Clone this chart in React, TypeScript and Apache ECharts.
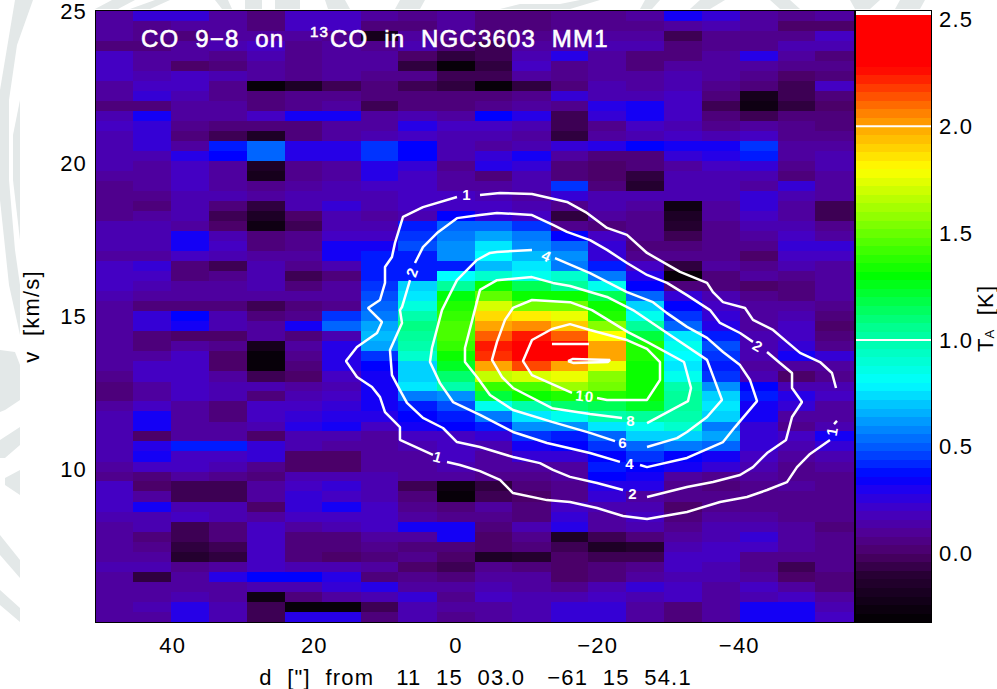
import React, { useEffect, useRef } from "react";
import * as echarts from "echarts";

// Grid of the position-velocity map
const offsets = [48.2,42.8,37.5,32.1,26.8,21.4,16.1,10.7,5.4,0,-5.4,-10.7,-16.1,-21.4,-26.8,-32.1,-37.5,-42.8,-48.2,-53.5];
const velocities = [24.84,24.51,24.18,23.85,23.52,23.20,22.87,22.54,22.21,21.89,21.56,21.23,20.90,20.57,20.25,19.92,19.59,19.26,18.93,18.61,18.28,17.95,17.62,17.30,16.97,16.64,16.31,15.98,15.66,15.33,15.00,14.67,14.34,14.02,13.69,13.36,13.03,12.70,12.38,12.05,11.72,11.39,11.07,10.74,10.41,10.08,9.75,9.43,9.10,8.77,8.44,8.11,7.79,7.46,7.13,6.80,6.48,6.15,5.82,5.49,5.16];

// T_A in hundredths of a kelvin, one list per offset column, top row first
const c00 = [12,12,10,4,18,20,18,12,10,5,16,18,17,17,16,15,12,7,7,8,8,14,15,15,12,19,20,20,14,12,12,13,11,10,10,10,9,3,3,12,14,15,15,15,15,11,8,19,20,18,15,13,12,12,13,14,12,13,12,13,13];
const c01 = [22,8,6,5,12,12,14,20,25,5,30,22,22,22,16,12,11,11,8,3,10,17,17,15,12,22,21,14,10,5,22,24,5,3,12,20,18,13,13,18,33,31,-2,28,30,20,2,-2,10,33,15,14,5,8,12,14,-8,10,13,14,13];
const c02 = [25,12,5,10,10,0,18,20,15,12,10,6,5,12,28,20,18,18,16,15,14,12,30,33,20,4,2,10,13,2,35,30,-2,12,18,20,20,20,18,12,10,10,12,38,20,18,12,-4,-5,15,18,-4,-5,-10,-13,8,10,12,14,28,28];
const c03 = [13,10,12,14,8,2,16,6,8,10,12,3,-3,38,36,12,12,13,14,2,-3,-2,15,20,14,-3,8,10,12,2,17,16,0,8,0,-2,12,14,15,5,5,10,12,38,18,15,8,-5,-5,14,14,5,3,-6,-8,10,28,10,12,15,15];
const c04 = [3,5,12,18,15,12,12,-28,2,3,18,5,-18,50,52,-18,-20,8,12,-8,-15,-26,2,5,10,14,15,14,10,-3,4,12,12,-20,-28,-28,-5,15,5,18,18,15,0,25,22,8,4,12,12,0,10,18,20,18,18,20,36,15,-25,-3,-3];
const c05 = [20,18,10,8,6,8,8,-18,6,8,30,4,2,28,26,6,8,12,14,14,-2,-5,6,8,10,6,-5,5,10,5,8,33,4,10,6,2,0,12,14,20,25,26,16,14,0,-2,14,18,22,24,18,12,4,2,2,14,36,15,2,-28,28];
const c06 = [20,18,8,12,12,12,10,-5,8,10,33,10,10,26,26,10,12,14,15,22,14,14,20,30,30,14,2,10,12,8,42,50,14,28,26,26,20,16,20,24,28,30,14,13,-2,-2,14,25,18,33,18,14,5,2,0,14,28,22,10,-28,28];
const c07 = [12,4,-22,8,10,10,8,4,4,-5,10,12,14,42,44,28,26,18,16,14,12,14,18,30,38,38,40,45,48,52,58,62,68,62,42,36,32,32,32,30,28,20,13,13,13,12,14,16,16,20,20,18,10,6,2,10,5,28,16,-4,4];
const c08 = [6,4,13,14,0,-10,8,-3,5,3,14,28,18,36,34,22,20,18,18,18,15,38,44,46,40,38,38,72,76,86,100,106,104,100,90,70,72,76,55,38,35,33,18,15,12,13,12,-5,2,6,10,32,10,5,6,-2,8,12,22,16,15];
const c09 = [10,10,8,5,-10,-30,-5,-8,5,5,12,20,14,14,14,6,10,12,18,18,36,50,56,60,60,40,78,104,128,136,140,142,142,138,130,122,110,100,60,46,38,34,20,20,18,14,12,-25,-28,4,6,30,32,4,-2,-6,4,10,6,10,8];
const c10 = [3,4,2,-4,-4,-8,-6,-28,4,6,34,18,14,12,22,26,5,10,16,18,22,50,65,76,80,68,90,130,146,172,186,200,210,224,220,198,166,140,120,85,55,40,25,15,12,10,8,-8,-6,10,8,4,0,0,-16,8,10,14,20,13,12];
const c11 = [3,5,6,10,14,18,10,-10,8,10,28,14,12,16,30,22,14,14,12,14,20,42,55,60,68,75,85,115,130,150,185,205,225,252,252,215,170,145,130,100,75,60,45,30,25,12,8,2,-2,4,2,14,8,4,-12,4,10,12,15,15,14];
const c12 = [6,6,12,10,28,8,6,2,25,8,-5,-6,-8,22,12,4,4,42,22,8,-8,8,35,50,60,55,90,105,130,150,175,190,210,255,255,200,175,160,135,110,85,60,40,35,25,10,10,8,8,18,22,28,-15,-6,0,0,0,8,14,22,22];
const c13 = [8,6,10,14,12,12,10,16,15,26,22,8,10,28,2,-2,-2,4,15,14,12,5,18,22,25,38,55,85,115,130,135,155,180,200,200,175,155,150,135,115,100,75,50,45,35,38,35,28,22,14,10,12,-5,-14,-4,2,5,16,20,22,22];
const c14 = [12,8,10,14,5,4,12,10,16,30,32,18,16,34,2,4,-8,-12,14,12,8,6,6,4,8,18,26,35,50,72,85,105,120,135,135,130,130,130,130,125,105,85,70,50,45,35,30,28,12,14,20,14,4,-12,-5,6,12,25,14,10,10];
const c15 = [30,12,-3,2,4,10,14,16,18,20,20,16,18,30,22,12,14,14,14,-25,-18,-12,-3,4,8,-8,-28,5,22,35,42,50,75,85,80,75,85,100,102,105,100,90,70,55,35,30,10,8,6,0,3,6,12,16,20,18,16,20,18,4,2];
const c16 = [22,14,6,8,12,10,10,8,2,-6,5,8,14,32,28,20,16,14,14,12,10,8,8,8,6,10,4,2,14,20,22,28,38,48,45,40,45,60,72,75,70,55,65,50,30,25,8,4,6,8,10,14,14,20,18,15,14,12,12,10,12];
const c17 = [10,10,8,8,26,10,8,4,-22,-26,-4,12,18,45,38,22,14,12,22,25,20,14,12,8,-2,8,12,0,8,10,10,13,14,14,14,12,16,36,38,32,30,24,22,22,20,16,10,6,6,8,10,14,24,18,6,8,10,18,16,30,30];
const c18 = [8,-2,6,14,10,8,-2,-4,-6,-8,2,6,8,12,12,8,4,24,14,10,10,14,20,24,20,14,6,4,4,10,16,18,20,22,30,12,-2,16,28,24,12,6,20,14,10,8,6,10,6,8,8,10,10,10,8,-3,-2,10,20,30,30];
const c19 = [12,0,18,14,2,6,4,18,2,0,4,4,8,12,14,14,12,10,10,-6,-5,6,10,24,20,12,10,10,10,8,4,0,4,6,22,12,8,14,18,12,10,14,30,24,14,10,8,8,6,8,6,5,6,8,8,6,3,4,10,14,20];
const columns = [c00,c01,c02,c03,c04,c05,c06,c07,c08,c09,c10,c11,c12,c13,c14,c15,c16,c17,c18,c19];

// Colour table of the colour bar: [kelvin, r, g, b]
const colourStops = [[-0.32,0,0,0],[-0.1,40,0,52],[0,75,0,105],[0.1,80,0,150],[0.2,68,0,195],[0.3,30,0,240],[0.36,0,0,255],[0.5,0,90,255],[0.65,0,170,255],[0.8,0,255,255],[1.05,0,255,150],[1.3,0,255,0],[1.55,130,255,0],[1.8,255,255,0],[2.0,255,165,0],[2.28,255,0,0],[2.52,255,0,0]];
const barLevels = [-0.30,-0.26,-0.22,-0.18,-0.14,-0.10,-0.06,-0.02,0.02,0.06,0.10,0.14,0.18,0.22,0.26,0.30,0.34,0.38,0.42,0.46,0.50,0.54,0.58,0.62,0.66,0.70,0.74,0.78,0.82,0.86,0.90,0.94,0.98,1.02,1.06,1.10,1.14,1.18,1.22,1.26,1.30,1.34,1.38,1.42,1.46,1.50,1.54,1.58,1.62,1.66,1.70,1.74,1.78,1.82,1.86,1.90,1.94,1.98,2.02,2.06,2.10,2.14,2.18,2.22,2.26,2.30,2.34,2.38,2.42,2.46,2.50,2.54];
const barContours = [1.0, 2.0];

// Contours of the 13CO map: [offset, velocity]; each list is one unbroken stretch
const contour1a = [[-3.39,18.98],[-6.21,19.04],[-10.73,19.01],[-15.67,18.75],[-18.49,18.39],[-21.32,17.90],[-24.14,17.67],[-26.97,17.08],[-31.63,16.46],[-35.44,16.10],[-36.28,15.80],[-37.70,15.47],[-40.80,15.28],[-41.93,14.89],[-44.76,14.56],[-46.73,14.17],[-48.57,13.81],[-51.39,13.51],[-53.08,13.15],[-53.65,12.66]];
const contour1b = [[-0.14,18.91],[4.66,18.58],[7.48,18.26],[8.61,17.41],[9.04,16.95],[10.02,16.62],[10.02,16.10],[10.73,15.54],[12.42,15.28],[12.14,15.21],[10.45,14.82],[11.15,14.46],[13.98,14.00],[15.53,13.54],[13.98,13.02],[11.86,12.69],[10.73,12.36],[10.02,11.87],[7.91,11.38],[7.91,10.96],[3.25,10.47]];
const contour1c = [[1.27,10.24],[-0.56,10.14],[-3.39,9.94],[-6.21,9.65],[-8.05,9.22],[-12.85,8.99],[-16.10,8.93],[-19.91,8.73],[-23.58,8.47],[-26.97,8.37],[-32.61,8.60],[-37.27,8.93],[-41.08,9.09],[-43.91,9.32],[-46.73,9.58],[-48.14,10.07],[-49.98,10.50],[-52.80,10.96]];
const contour1d = [[-53.37,11.48],[-53.79,11.58]];
const contour2a = [[5.79,16.75],[4.66,17.27],[2.68,17.73],[-0.14,18.22],[-3.39,18.32],[-5.79,18.39],[-10.73,18.32],[-13.69,18.00],[-15.67,17.77],[-18.92,17.50],[-21.32,17.18],[-24.14,16.75],[-26.97,16.36],[-29.79,16.10],[-32.61,15.70],[-35.86,15.21],[-37.27,14.79],[-40.10,14.46],[-41.93,14.17]];
const contour2b = [[-43.91,13.84],[-45.74,13.48],[-47.44,13.15],[-47.44,12.66],[-48.85,12.20],[-47.44,11.71],[-46.59,10.96],[-43.91,10.53],[-41.93,10.07],[-40.10,9.81],[-36.28,9.58],[-32.61,9.42],[-26.97,9.09]];
const contour2c = [[-23.58,9.32],[-19.91,9.55],[-16.10,9.75],[-13.69,9.98],[-11.86,10.20],[-8.05,10.40],[-3.39,10.73],[-0.14,10.89],[1.84,11.35],[4.66,11.68],[6.92,12.17],[7.91,12.59],[9.04,13.08],[9.32,13.90],[7.62,14.79],[7.91,15.21],[7.62,15.31],[6.49,16.19]];
const contour4a = [[-10.73,17.18],[-5.79,17.11],[-4.80,17.08],[-2.96,16.85],[-0.14,16.19],[1.27,15.54],[1.98,15.21],[3.39,13.97],[3.67,13.51],[2.26,12.82],[0.42,12.20],[-3.39,11.78],[-8.05,11.22],[-12.85,10.86],[-18.92,10.53],[-23.15,10.24]];
const contour4b = [[-25.98,10.14],[-26.97,10.07],[-32.61,10.37],[-37.70,10.89],[-39.39,11.38],[-42.50,12.23],[-41.51,12.92],[-40.10,13.41],[-37.70,13.84],[-35.44,14.30],[-32.61,14.66],[-29.79,15.11],[-27.81,15.47],[-24.14,15.80],[-18.92,16.42],[-13.98,16.91]];
const contour6 = [[-26.97,10.73],[-31.20,11.02],[-32.61,11.22],[-35.44,11.71],[-37.55,12.27],[-35.44,13.58],[-29.79,14.46],[-24.99,15.21],[-21.32,15.64],[-16.10,16.00],[-13.69,16.10],[-10.73,16.29],[-5.79,16.19],[-3.39,15.87],[-2.40,14.98],[-1.27,13.97],[-1.27,13.51],[-2.96,13.02],[-4.80,12.43],[-8.05,11.94],[-13.55,11.55],[-18.92,11.19],[-22.45,10.92]];
const contour8 = [[-26.97,11.51],[-32.75,12.23],[-33.18,12.66],[-32.19,13.51],[-26.97,14.17],[-24.28,14.49],[-19.20,15.21],[-16.10,15.47],[-10.73,15.54],[-8.05,15.28],[-6.92,14.89],[-5.79,14.17],[-5.08,13.58],[-6.49,13.02],[-8.05,12.66],[-13.55,12.00],[-18.92,11.81],[-23.44,11.68]];
const contour10 = [[-19.91,12.33],[-21.32,12.27],[-26.97,12.27],[-28.80,12.92],[-28.80,13.51],[-26.97,13.94],[-24.14,14.23],[-18.92,14.56],[-16.10,14.75],[-13.55,14.59],[-10.73,14.23],[-9.46,13.54],[-10.73,13.08],[-16.38,12.50]];
const contour12a = [[-13.55,14.10],[-18.78,14.10]];
const contour12b = [[-15.81,13.54],[-16.52,13.61],[-21.74,13.58],[-21.46,13.51],[-16.52,13.48],[-15.81,13.54]];
const contourLists = [contour1a,contour1b,contour1c,contour1d,contour2a,contour2b,contour2c,contour4a,contour4b,contour6,contour8,contour10,contour12a,contour12b];

const contourLabels = [
  { name: "1", value: [-1.55, 18.98], rotate: 0 },
  { name: "2", value: [6.21, 16.46], rotate: 70 },
  { name: "4", value: [-12.85, 16.98], rotate: -25 },
  { name: "2", value: [-42.64, 14.03], rotate: -30 },
  { name: "1", value: [-53.08, 11.25], rotate: 80 },
  { name: "1", value: [2.54, 10.40], rotate: -15 },
  { name: "10", value: [-18.21, 12.40], rotate: -5 },
  { name: "8", value: [-24.71, 11.61], rotate: 0 },
  { name: "6", value: [-23.58, 10.86], rotate: 0 },
  { name: "4", value: [-24.57, 10.20], rotate: 0 },
  { name: "2", value: [-24.99, 9.22], rotate: 0 },
];

const offsetMajor = [40, 20, 0, -20, -40];
const offsetMinor = [50,45,35,30,25,15,10,5,-5,-10,-15,-25,-30,-35,-45,-50,-55];
const barMajor = [0, 0.5, 1.0, 1.5, 2.0, 2.5];
const barMinor = [-0.3,-0.2,-0.1,0.1,0.2,0.3,0.4,0.6,0.7,0.8,0.9,1.1,1.2,1.3,1.4,1.6,1.7,1.8,1.9,2.1,2.2,2.3,2.4];

const titleLeft = "CO  9\u22128  on";
const titleSup = "13";
const titleRight = "CO  in  NGC3603  MM1";
const xName = "d  [\"]  from   11  15  03.0   \u221261  15  54.1";
const yName = "v  [km/s]";

const FONT = "Liberation Sans";
const WM = "#e3e8e8";

// Faint institute crest behind the page (page decoration, not data)
const watermark: number[][][] = [
  [[15,0],[33,0],[17,45],[9,100],[9,180],[15,250],[20,285],[20,335],[9,285],[0,200],[0,90]],
  [[20,100],[13,135],[13,180],[20,240]],
  [[0,350],[15,352],[20,365],[20,400],[5,410],[0,412]],
  [[0,440],[20,427],[20,445],[5,458],[0,458]],
  [[5,478],[20,470],[20,495],[5,485]],
  [[0,535],[20,560],[20,578],[0,555]],
  [[0,590],[20,608],[20,622],[0,605]],
  [[95,9],[112,0],[135,0],[118,9]],
  [[130,9],[155,0],[170,0],[150,9]],
  [[215,0],[228,0],[232,9],[222,9]],
  [[245,0],[262,0],[262,9],[245,9]],
  [[275,0],[300,0],[300,9],[275,9]],
  [[325,0],[345,0],[350,9],[328,9]],
  [[400,0],[425,0],[420,9],[395,9]],
  [[500,9],[520,4],[560,4],[580,0],[600,0],[570,9]],
  [[645,0],[660,0],[652,9],[640,9]],
  [[700,0],[725,0],[710,9],[690,9]],
  [[770,0],[790,0],[800,9],[780,9]],
  [[850,0],[880,0],[870,9],[855,9]],
  [[900,0],[925,0],[920,9],[895,9]],
];

function colourOf(k: number): string {
  if (k > 2.52) return "#ffffff";
  const q = Math.max(-0.32, Math.min(2.52, k));
  for (let i = 1; i < colourStops.length; i++) {
    const a = colourStops[i - 1], b = colourStops[i];
    if (q <= b[0]) {
      const t = (q - a[0]) / (b[0] - a[0]);
      return `rgb(${Math.round(a[1] + t * (b[1] - a[1]))},${Math.round(a[2] + t * (b[2] - a[2]))},${Math.round(a[3] + t * (b[3] - a[3]))})`;
    }
  }
  return "#ff0000";
}

const snap = (k: number) => Math.min(2.5, Math.round(k * 25) / 25);
const halfD = 2.75;
const halfV = 0.172;

function renderCell(_: any, api: any) {
  const d = api.value(0), v = api.value(1), k = api.value(2);
  const a = api.coord([d + halfD, v + halfV]);
  const b = api.coord([d - halfD, v - halfV]);
  const x = Math.round(Math.min(a[0], b[0])), y = Math.round(Math.min(a[1], b[1]));
  const w = Math.round(Math.max(a[0], b[0])) - x, h = Math.round(Math.max(a[1], b[1])) - y;
  return { type: "rect", shape: { x, y, width: w, height: h }, style: { fill: colourOf(snap(k)) } };
}

function renderBar(_: any, api: any) {
  const k = api.value(0);
  const a = api.coord([0, k + 0.021]);
  const b = api.coord([1, k - 0.021]);
  return { type: "rect", shape: { x: a[0], y: Math.round(a[1]), width: b[0] - a[0], height: Math.round(b[1]) - Math.round(a[1]) }, style: { fill: colourOf(k) } };
}

const line = { show: true, onZero: false, lineStyle: { color: "#000", width: 2 } };
const tickStyle = { color: "#000", width: 2 };
const labelBase = { color: "#000", fontFamily: FONT, fontSize: 22 };
const noSplit = { splitLine: { show: false }, minorSplitLine: { show: false }, splitArea: { show: false } };

function offsetAxis(position: string, values: number[], length: number, labels: boolean, extra: any = {}) {
  return {
    type: "value", gridIndex: 0, position, inverse: true, min: -56.33, max: 50.82,
    axisLine: line, ...noSplit,
    axisTick: { show: true, inside: true, length, lineStyle: tickStyle, customValues: values },
    axisLabel: labels
      ? { ...labelBase, show: true, margin: 12, customValues: values, formatter: (v: number) => String(v).replace("-", "\u2212") }
      : { show: false },
    ...extra,
  };
}

function velocityAxis(position: string, labels: boolean, extra: any = {}) {
  return {
    type: "value", gridIndex: 0, position, min: 5, max: 25, interval: 5,
    axisLine: line, ...noSplit,
    axisTick: { show: true, inside: true, length: 15, lineStyle: tickStyle },
    minorTick: { show: true, splitNumber: 5, length: 7, lineStyle: tickStyle },
    axisLabel: labels ? { ...labelBase, show: true, margin: 9, formatter: (v: number) => (v === 5 ? "" : String(v)) } : { show: false },
    ...extra,
  };
}

function barAxis(position: string, values: number[], length: number, labels: boolean) {
  return {
    type: "value", gridIndex: 1, position, min: -0.32, max: 2.54,
    axisLine: line, ...noSplit,
    axisTick: { show: length > 0, inside: true, length, lineStyle: tickStyle, customValues: values },
    axisLabel: labels
      ? { ...labelBase, show: true, margin: 8, customValues: values, formatter: (v: number) => v.toFixed(1) }
      : { show: false },
  };
}

function barXAxis(position: string) {
  return {
    type: "value", gridIndex: 1, position, min: 0, max: 1,
    axisLine: line, axisTick: { show: false }, axisLabel: { show: false }, ...noSplit,
  };
}

const titleStyle = { fill: "#fff", fontFamily: FONT, fontSize: 24, stroke: "#fff", lineWidth: 0.6 };

export default function App() {
  const ref = useRef<HTMLDivElement>(null);
  useEffect(() => {
    const chart = echarts.init(ref.current!, undefined, { renderer: "svg" });
    const cells: number[][] = [];
    columns.forEach((col, i) => col.forEach((k, j) => cells.push([offsets[i], velocities[j], k / 100])));
    chart.setOption({
      animation: false,
      backgroundColor: "#fff",
      grid: [
        { left: 96, top: 11, width: 759, height: 611, containLabel: false, outerBoundsMode: "none" },
        { left: 856, top: 11, width: 75, height: 611, containLabel: false, outerBoundsMode: "none" },
      ],
      xAxis: [
        offsetAxis("bottom", offsetMajor, 12, true, {
          name: xName, nameLocation: "middle", nameGap: 44,
          nameTextStyle: { color: "#000", fontFamily: FONT, fontSize: 22 },
        }),
        offsetAxis("bottom", offsetMinor, 6, false),
        offsetAxis("top", offsetMajor, 12, false),
        offsetAxis("top", offsetMinor, 6, false),
        barXAxis("bottom"),
        barXAxis("top"),
      ],
      yAxis: [
        velocityAxis("left", true, {
          name: yName, nameLocation: "middle", nameGap: 54, nameRotate: 90,
          nameTextStyle: { color: "#000", fontFamily: FONT, fontSize: 22 },
        }),
        velocityAxis("right", false),
        barAxis("right", barMajor, 14, true),
        barAxis("right", barMinor, 7, false),
        barAxis("left", [], 0, false),
      ],
      graphic: [
        ...watermark.map((points) => ({ type: "polygon", z: -10, silent: true, shape: { points }, style: { fill: WM } })),
        { type: "text", z: 100, x: 141, y: 38, style: { ...titleStyle, text: titleLeft, verticalAlign: "middle" } },
        { type: "text", z: 100, x: 310, y: 31, style: { ...titleStyle, fontSize: 15, text: titleSup, verticalAlign: "middle" } },
        { type: "text", z: 100, x: 330, y: 38, style: { ...titleStyle, text: titleRight, verticalAlign: "middle" } },
        { type: "text", z: 100, x: 985, y: 352, rotation: Math.PI / 2, style: {
            text: "T{a|A}  [K]", fill: "#000", fontFamily: FONT, fontSize: 22, verticalAlign: "middle",
            rich: { a: { fontSize: 13, fontFamily: FONT, fill: "#000", verticalAlign: "bottom" } },
        } },
      ],
      series: [
        { type: "custom", xAxisIndex: 0, yAxisIndex: 0, renderItem: renderCell, data: cells, encode: { x: 0, y: 1 }, clip: true, silent: true, z: 1 },
        { type: "custom", xAxisIndex: 4, yAxisIndex: 2, renderItem: renderBar, data: barLevels.map((k) => [k]), encode: { y: 0 }, clip: true, silent: true, z: 1 },
        ...contourLists.map((data) => ({
          type: "line", xAxisIndex: 0, yAxisIndex: 0, data, showSymbol: false, symbol: "none", silent: true, z: 5,
          lineStyle: { color: "#fff", width: 2.5 },
        })),
        ...barContours.map((k) => ({
          type: "line", xAxisIndex: 4, yAxisIndex: 2, data: [[0, k], [1, k]], showSymbol: false, symbol: "none", silent: true, z: 5,
          lineStyle: { color: "#fff", width: 2 },
        })),
        {
          type: "scatter", xAxisIndex: 0, yAxisIndex: 0, symbolSize: 1, silent: true, z: 6, itemStyle: { color: "#fff", opacity: 1 },
          data: contourLabels.map((l) => ({
            name: l.name, value: l.value,
            label: { show: true, position: "inside", formatter: "{b}", rotate: l.rotate, color: "#fff", opacity: 1, textBorderWidth: 0, fontFamily: FONT, fontSize: 15, fontWeight: "bold" },
          })),
        },
      ],
    });
    return () => chart.dispose();
  }, []);
  return (
    <>
      <style>{`body{margin:0;background:#fff} #root svg text{letter-spacing:1.2px}`}</style>
      <div ref={ref} style={{ width: 997, height: 689 }} />
    </>
  );
}
